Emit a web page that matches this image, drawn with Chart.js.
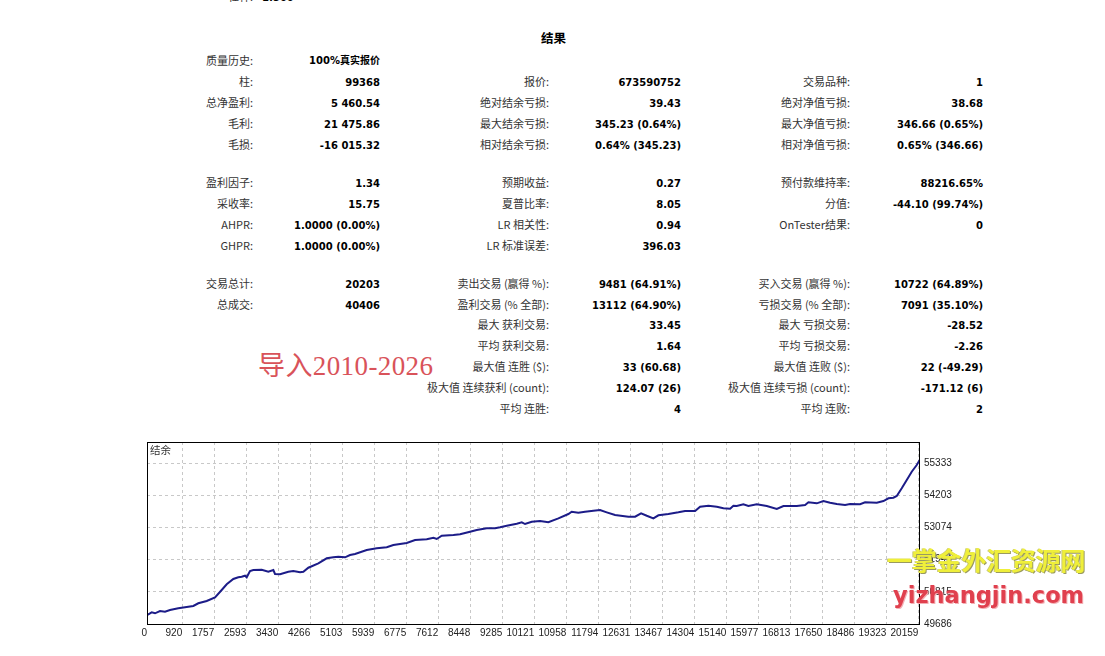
<!DOCTYPE html>
<html>
<head>
<meta charset="utf-8">
<script src="https://cdn.jsdelivr.net/npm/chart.js@4.4.1/dist/chart.umd.min.js"></script>
<style>
  html, body { margin: 0; padding: 0; background: #fff; }
  body { width: 1105px; height: 656px; position: relative; overflow: hidden; }
  .t { position: absolute; white-space: nowrap; line-height: 16px; }
  .lb { font: 11px "Noto Sans CJK SC", sans-serif; color: #333; }
  .vl { font: bold 10px "DejaVu Sans", "Noto Sans CJK SC", sans-serif; color: #000; }
  #head { position: absolute; left: 541px; top: 28px; font: bold 12.5px "Noto Sans CJK SC", sans-serif; color: #000; }
  #wrap { position: absolute; left: 0; top: 430px; width: 1105px; height: 226px; }
  #caption { position: absolute; left: 150px; top: 443px; font: 10.5px "Noto Sans CJK SC", sans-serif; color: #333; line-height: 14px; }
  #wm1 { position: absolute; left: 258px; top: 351px; font: 27px "Liberation Serif", "Noto Sans CJK SC", serif; color: #d9535a; line-height: 30px; letter-spacing: 0.4px; }
  #wm2 { position: absolute; left: 887px; top: 547px; font: bold 25px "Noto Sans CJK SC", sans-serif; color: #efef3a; line-height: 25px; letter-spacing: -0.2px;
         text-shadow: 1px 1px 0 #9a9a60, -1px 0 0 #c8c87a; }
  #wm3 { position: absolute; left: 893px; top: 582px; font: bold 22.5px "DejaVu Sans", sans-serif; color: #e0404e; line-height: 26px;
         text-shadow: 1px 1px 0 #f3b0b5; }
</style>
</head>
<body>
<div id="report"></div>
<div id="head">结果</div>
<div id="wrap"><canvas id="balanceChart"></canvas></div>
<div id="caption">结余</div>
<div id="wm1">导入2010-2026</div>
<div id="wm2">一掌金外汇资源网</div>
<div id="wm3">yizhangjin.com</div>
<script>
// report columns: label, value, label, value, label, value (right edges)
const colRight = [253, 380, 549, 681, 850, 983];

const statRows = [
  [60,  ["质量历史:", "100%真实报价", "", "", "", ""]],
  [81,  ["柱:", "99368", "报价:", "673590752", "交易品种:", "1"]],
  [102, ["总净盈利:", "5 460.54", "绝对结余亏损:", "39.43", "绝对净值亏损:", "38.68"]],
  [123, ["毛利:", "21 475.86", "最大结余亏损:", "345.23 (0.64%)", "最大净值亏损:", "346.66 (0.65%)"]],
  [144, ["毛损:", "-16 015.32", "相对结余亏损:", "0.64% (345.23)", "相对净值亏损:", "0.65% (346.66)"]],
  [182, ["盈利因子:", "1.34", "预期收益:", "0.27", "预付款维持率:", "88216.65%"]],
  [203, ["采收率:", "15.75", "夏普比率:", "8.05", "分值:", "-44.10 (99.74%)"]],
  [224, ["AHPR:", "1.0000 (0.00%)", "LR 相关性:", "0.94", "OnTester结果:", "0"]],
  [245, ["GHPR:", "1.0000 (0.00%)", "LR 标准误差:", "396.03", "", ""]],
  [283, ["交易总计:", "20203", "卖出交易 (赢得 %):", "9481 (64.91%)", "买入交易 (赢得 %):", "10722 (64.89%)"]],
  [304, ["总成交:", "40406", "盈利交易 (% 全部):", "13112 (64.90%)", "亏损交易 (% 全部):", "7091 (35.10%)"]],
  [324, ["", "", "最大 获利交易:", "33.45", "最大 亏损交易:", "-28.52"]],
  [345, ["", "", "平均 获利交易:", "1.64", "平均 亏损交易:", "-2.26"]],
  [366, ["", "", "最大值 连胜 ($):", "33 (60.68)", "最大值 连败 ($):", "22 (-49.29)"]],
  [387, ["", "", "极大值 连续获利 (count):", "124.07 (26)", "极大值 连续亏损 (count):", "-171.12 (6)"]],
  [408, ["", "", "平均 连胜:", "4", "平均 连败:", "2"]]
];

// balance curve (trade number -> balance)
const tradeNo = [0, 123, 209, 340, 470, 601, 818, 1037, 1211, 1341, 1560, 1778, 1952, 2083, 2256, 2387, 2474,
  2562, 2606, 2692, 2779, 2998, 3171, 3302, 3346, 3477, 3694, 3824, 4000, 4086, 4217, 4478, 4697, 4870, 5001,
  5176, 5306, 5437, 5743, 6004, 6266, 6439, 6788, 7006, 7311, 7486, 7573, 7703, 8008, 8182, 8443, 8618, 8880,
  9097, 9228, 9403, 9664, 9795, 9881, 10056, 10273, 10490, 10752, 11013, 11100, 11274, 11449, 11667, 11841,
  12016, 12233, 12582, 12757, 12913, 13062, 13235, 13366, 13627, 13888, 14063, 14325, 14456, 14673, 14892,
  15065, 15240, 15326, 15414, 15587, 15718, 15937, 16199, 16460, 16634, 16982, 17200, 17287, 17505, 17679,
  17853, 18027, 18245, 18376, 18637, 18768, 19074, 19247, 19378, 19508, 19596, 19726, 19857, 19987, 20118, 20203];
const balance = [50000, 50097, 50062, 50142, 50118, 50177, 50237, 50283, 50318, 50413, 50493, 50623, 50879, 51079,
  51266, 51325, 51346, 51381, 51325, 51546, 51581, 51592, 51522, 51581, 51441, 51430, 51522, 51546, 51500, 51522,
  51662, 51817, 51992, 52027, 52048, 52027, 52108, 52143, 52283, 52343, 52378, 52459, 52529, 52634, 52659, 52715,
  52670, 52785, 52810, 52834, 52926, 52985, 53045, 53045, 53080, 53136, 53206, 53256, 53196, 53277, 53300, 53256,
  53396, 53547, 53628, 53593, 53628, 53663, 53687, 53606, 53512, 53452, 53452, 53571, 53487, 53396, 53501, 53547,
  53606, 53652, 53652, 53803, 53838, 53803, 53747, 53735, 53838, 53828, 53888, 53828, 53888, 53828, 53722, 53828,
  53828, 53863, 53957, 53922, 54003, 53944, 53898, 53863, 53898, 53888, 53957, 53944, 54003, 54098, 54119, 54179,
  54449, 54740, 55032, 55267, 55461];

const xTicks = [0, 920, 1757, 2593, 3430, 4266, 5103, 5939, 6775, 7612, 8448, 9285, 10121, 10958, 11794,
  12631, 13467, 14304, 15140, 15977, 16813, 17650, 18486, 19323, 20159];
const yTicks = [49686, 50815, 51944, 53074, 54203, 55333];

// build the report text
const report = document.getElementById("report");
function addText(cls, txt, cy, right, left) {
  if (!txt) return;
  const d = document.createElement("div");
  d.className = "t " + cls;
  d.textContent = txt;
  // bold values sit a bit high in their line box unless they contain CJK glyphs
  let shift = 0;
  if (cls === "vl" && !/[\u4e00-\u9fff]/.test(txt)) shift = 4;
  d.style.top = (cy - 8 + shift) + "px";
  if (left !== undefined) d.style.left = left + "px";
  else d.style.right = (1105 - right) + "px";
  report.appendChild(d);
}
addText("lb", "杠杆:", -4, 253);
addText("vl", "1:500", -4, 0, 262);
statRows.forEach(([cy, cells]) => {
  cells.forEach((txt, i) => addText(i % 2 === 0 ? "lb" : "vl", txt, cy, colRight[i]));
});

// frame around the plot area
const frame = {
  id: "frame",
  afterDraw(chart) {
    const { ctx, chartArea: a } = chart;
    ctx.save();
    ctx.strokeStyle = "#000";
    ctx.lineWidth = 1;
    ctx.strokeRect(a.left + 0.5, a.top + 0.5, a.right - a.left - 1, a.bottom - a.top);
    ctx.restore();
  }
};

Chart.defaults.font.family = '"Liberation Sans", sans-serif';
Chart.defaults.font.size = 10;
Chart.defaults.color = "#222";

const ctx = document.getElementById("balanceChart").getContext("2d");
new Chart(ctx, {
  type: "line",
  data: {
    datasets: [{
      label: "结余",
      data: tradeNo.map((t, i) => ({ x: t, y: balance[i] })),
      borderColor: "#1c1c88",
      borderWidth: 2,
      pointRadius: 0,
      tension: 0,
      fill: false
    }]
  },
  options: {
    responsive: true,
    maintainAspectRatio: false,
    animation: false,
    layout: { padding: { left: 147, top: 12, right: 125, bottom: 0 } },
    plugins: { legend: { display: false }, tooltip: { enabled: false } },
    scales: {
      x: {
        type: "linear",
        min: 0,
        max: 20203,
        afterBuildTicks: s => { s.ticks = xTicks.map(v => ({ value: v })); },
        afterFit: s => { s.height = 32; },
        grid: { color: "#c8c8c8", drawTicks: false },
        border: { display: false, dash: [3, 3] },
        ticks: { align: "end", padding: 3, maxRotation: 0, autoSkip: false, callback: v => String(v) }
      },
      y: {
        position: "right",
        min: 49686,
        max: 56075,
        afterBuildTicks: s => { s.ticks = yTicks.map(v => ({ value: v })); },
        afterFit: s => { s.width = 60; },
        grid: { color: "#c8c8c8", drawTicks: false },
        border: { display: false, dash: [3, 3] },
        ticks: { padding: 4, callback: v => String(v) }
      }
    }
  },
  plugins: [frame]
});
</script>
</body>
</html>
